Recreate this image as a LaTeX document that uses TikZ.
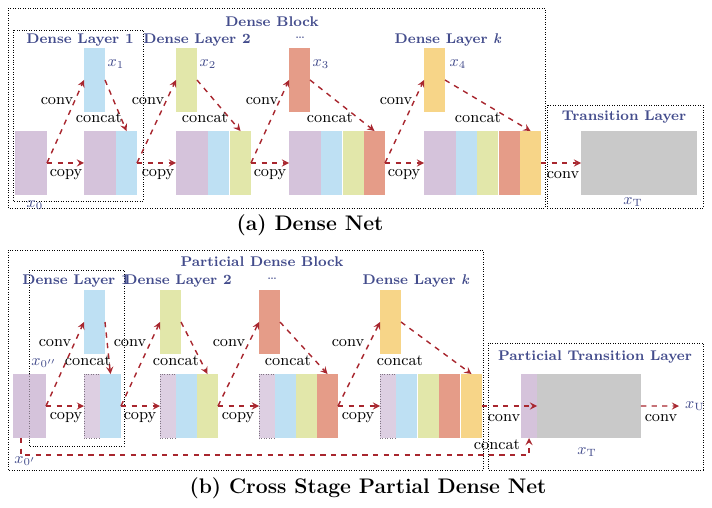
\documentclass[tikz,border=0pt]{standalone}
\usepackage{amsmath}
\usepackage{tikz}
\definecolor{cpur}{HTML}{D5C3DB}
\definecolor{cblu}{HTML}{BEE0F3}
\definecolor{cgrn}{HTML}{E2E7AA}
\definecolor{cred}{HTML}{E59C88}
\definecolor{cyel}{HTML}{F7D588}
\definecolor{cgry}{HTML}{C9C9C9}
\definecolor{ctit}{HTML}{434C8C}
\definecolor{carr}{HTML}{A8262E}

\begin{document}
\begin{tikzpicture}[x=0.02cm, y=-0.02cm]
    % Styles
    \tikzstyle{blk} = [inner sep=0, outer sep=0, anchor=north west, minimum height=1.28cm]
    \tikzstyle{wide} = [blk, minimum width=0.64cm]
    \tikzstyle{thin} = [blk, minimum width=0.42cm]
    \tikzstyle{part} = [blk, minimum width=0.32cm, fill=cpur!80, draw=cpur!60!black, densely dotted]
    \tikzstyle{arr} = [->, >=stealth, dashed, thick, draw=carr]
    \tikzstyle{box} = [densely dotted, thin]
    \tikzstyle{title} = [font=\footnotesize\bfseries, text=ctit, inner sep=1pt]
    \tikzstyle{lbl} = [font=\small]
    \tikzstyle{var} = [font=\small, text=ctit]
    \useasboundingbox (0,0) rectangle (712,507);

    % (a) Dense Net
    \draw[box] (8,8) rectangle (545,208);
    \draw[box] (13,30) rectangle (143,201);
    \draw[box] (547,105) rectangle (703,208);
    \node[title] (tdb) at (272,22) {Dense Block};
    \node[title] (tl1) at (80,40) {Dense Layer 1};
    \node[title, font=\footnotesize] (tl3) at (300,38) {\dots};
    \node[title] (tl2) at (197,40) {Dense Layer 2};
    \node[title] (tlk) at (448,40) {Dense Layer \textit{k}};
    \node[title] (ttr) at (624,117) {Transition Layer};

    \node[wide, fill=cpur] (a0) at (15,131) {};
    \node[thin, fill=cblu] (a1) at (84,48) {};
    \node[thin, fill=cgrn] (a2) at (176,48) {};
    \node[thin, fill=cred] (a3) at (289,48) {};
    \node[thin, fill=cyel] (a4) at (424,48) {};

    \node[wide, fill=cpur] (a1p) at (84,131) {};
    \node[thin, fill=cblu] (a1b) at (116,131) {};
    \node[wide, fill=cpur] (a2p) at (176,131) {};
    \node[thin, fill=cblu] (a2b) at (208,131) {};
    \node[thin, fill=cgrn] (a2g) at (230,131) {};
    \node[wide, fill=cpur] (a3p) at (289,131) {};
    \node[thin, fill=cblu] (a3b) at (321,131) {};
    \node[thin, fill=cgrn] (a3g) at (343,131) {};
    \node[thin, fill=cred] (a3r) at (364,131) {};
    \node[wide, fill=cpur] (a4p) at (424,131) {};
    \node[thin, fill=cblu] (a4b) at (456,131) {};
    \node[thin, fill=cgrn] (a4g) at (477,131) {};
    \node[thin, fill=cred] (a4r) at (499,131) {};
    \node[thin, fill=cyel] (a4y) at (520,131) {};
    \node[blk, minimum width=2.32cm, fill=cgry] (at) at (581,131) {};

    \node[var] (vx0) at (35,205) {$x_0$};
    \node[var] (vx1) at (116,64) {$x_1$};
    \node[var] (vx2) at (208,64) {$x_2$};
    \node[var] (vx3) at (321,64) {$x_3$};
    \node[var] (vx4) at (458,64) {$x_4$};
    \node[var] (vxt) at (633,202) {$x_{\mathrm{T}}$};

    \draw[arr] (a0.east) -- (a1.west);
    \draw[arr] (a0.east) -- (a1p.west);
    \draw[arr] (a1.east) -- (a1b.north);
    \draw[arr] (a1b.east) -- (a2.west);
    \draw[arr] (a1b.east) -- (a2p.west);
    \draw[arr] (a2.east) -- (a2g.north);
    \draw[arr] (a2g.east) -- (a3.west);
    \draw[arr] (a2g.east) -- (a3p.west);
    \draw[arr] (a3.east) -- (a3r.north);
    \draw[arr] (a3r.east) -- (a4.west);
    \draw[arr] (a3r.east) -- (a4p.west);
    \draw[arr] (a4.east) -- (a4y.north);
    \draw[arr] (a4y.east) -- (at.west);

    \node[lbl] (ac1) at (57,101) {conv};
    \node[lbl] (ak1) at (99,118) {concat};
    \node[lbl] (ay1) at (66,175) {copy};
    \node[lbl] (ac2) at (148,101) {conv};
    \node[lbl] (ak2) at (205,118) {concat};
    \node[lbl] (ay2) at (158,175) {copy};
    \node[lbl] (ac3) at (262,101) {conv};
    \node[lbl] (ak3) at (330,118) {concat};
    \node[lbl] (ay3) at (270,175) {copy};
    \node[lbl] (ac4) at (396,101) {conv};
    \node[lbl] (ak4) at (478,118) {concat};
    \node[lbl] (ay4) at (404,175) {copy};
    \node[lbl] (act) at (563,175) {conv};
    \node[font=\large\bfseries] (capa) at (310,225) {(a) Dense Net};

    % (b) Cross Stage Partial Dense Net
    \draw[box] (8,250) rectangle (483,470);
    \draw[box] (29,270) rectangle (124,446);
    \draw[box] (488,343) rectangle (703,470);
    \node[title] (tpb) at (262,262) {Particial Dense Block};
    \node[title] (sl1) at (76,281) {Dense Layer 1};
    \node[title] (sl2) at (178,281) {Dense Layer 2};
    \node[title, font=\footnotesize] (sl3) at (272,279) {\dots};
    \node[title] (slk) at (416,281) {Dense Layer \textit{k}};
    \node[title] (str) at (595,357) {Particial Transition Layer};

    \node[blk, minimum width=0.66cm, fill=cpur] (b0) at (13,374) {};
    \draw[densely dotted, draw=cpur!60!black] ([xshift=0.32cm]b0.north west) -- ([xshift=0.32cm]b0.south west);
    \node[thin, fill=cblu] (b1) at (84,290) {};
    \node[thin, fill=cgrn] (b2) at (160,290) {};
    \node[thin, fill=cred] (b3) at (259,290) {};
    \node[thin, fill=cyel] (b4) at (380,290) {};

    \node[part] (b1d) at (84,374) {};
    \node[thin, fill=cblu] (b1b) at (100,374) {};
    \node[part] (b2d) at (160,374) {};
    \node[thin, fill=cblu] (b2b) at (176,374) {};
    \node[thin, fill=cgrn] (b2g) at (197,374) {};
    \node[part] (b3d) at (259,374) {};
    \node[thin, fill=cblu] (b3b) at (275,374) {};
    \node[thin, fill=cgrn] (b3g) at (296,374) {};
    \node[thin, fill=cred] (b3r) at (317,374) {};
    \node[part] (b4d) at (380,374) {};
    \node[thin, fill=cblu] (b4b) at (396,374) {};
    \node[thin, fill=cgrn] (b4g) at (418,374) {};
    \node[thin, fill=cred] (b4r) at (439,374) {};
    \node[thin, fill=cyel] (b4y) at (461,374) {};
    \node[blk, minimum width=0.32cm, fill=cpur] (bt) at (521,374) {};
    \node[blk, minimum width=2.08cm, fill=cgry] (bg) at (537,374) {};

    \node[var] (vy0) at (44,363) {$x_{0''}$};
    \node[var] (vy0b) at (25,461) {$x_{0'}$};
    \node[var] (vyt) at (587,452) {$x_{\mathrm{T}}$};
    \node[var, anchor=west] (vyu) at (679,406) {$x_{\mathrm{U}}$};

    \draw[arr] (b0.east) -- (b1.west);
    \draw[arr] (b0.east) -- (b1d.west);
    \draw[arr] (b1.east) -- (b1b.north);
    \draw[arr] (b1b.east) -- (b2.west);
    \draw[arr] (b1b.east) -- (b2d.west);
    \draw[arr] (b2.east) -- (b2g.north);
    \draw[arr] (b2g.east) -- (b3.west);
    \draw[arr] (b2g.east) -- (b3d.west);
    \draw[arr] (b3.east) -- (b3r.north);
    \draw[arr] (b3r.east) -- (b4.west);
    \draw[arr] (b3r.east) -- (b4d.west);
    \draw[arr] (b4.east) -- (b4y.north);
    \draw[arr] (b4y.east) -- (bt.east);
    \draw[arr] (bg.east) -- (vyu.west);
    \draw[arr] ([xshift=-0.17cm]b0.south) -- ++(0,17) -| (bt.south);

    \node[lbl] (bc1) at (55,343) {conv};
    \node[lbl] (bk1) at (88,361) {concat};
    \node[lbl] (by1) at (66,418) {copy};
    \node[lbl] (bc2) at (130,343) {conv};
    \node[lbl] (bk2) at (176,361) {concat};
    \node[lbl] (by2) at (140,418) {copy};
    \node[lbl] (bc3) at (229,343) {conv};
    \node[lbl] (bk3) at (288,361) {concat};
    \node[lbl] (by3) at (238,418) {copy};
    \node[lbl] (bc4) at (348,343) {conv};
    \node[lbl] (bk4) at (400,361) {concat};
    \node[lbl] (by4) at (358,418) {copy};
    \node[lbl] (bct) at (504,418) {conv};
    \node[lbl] (bcu) at (661,418) {conv};
    \node[lbl] (bkt) at (497,445) {concat};
    \node[font=\large\bfseries] (capb) at (368,488) {(b) Cross Stage Partial Dense Net};
\end{tikzpicture}
\end{document}
